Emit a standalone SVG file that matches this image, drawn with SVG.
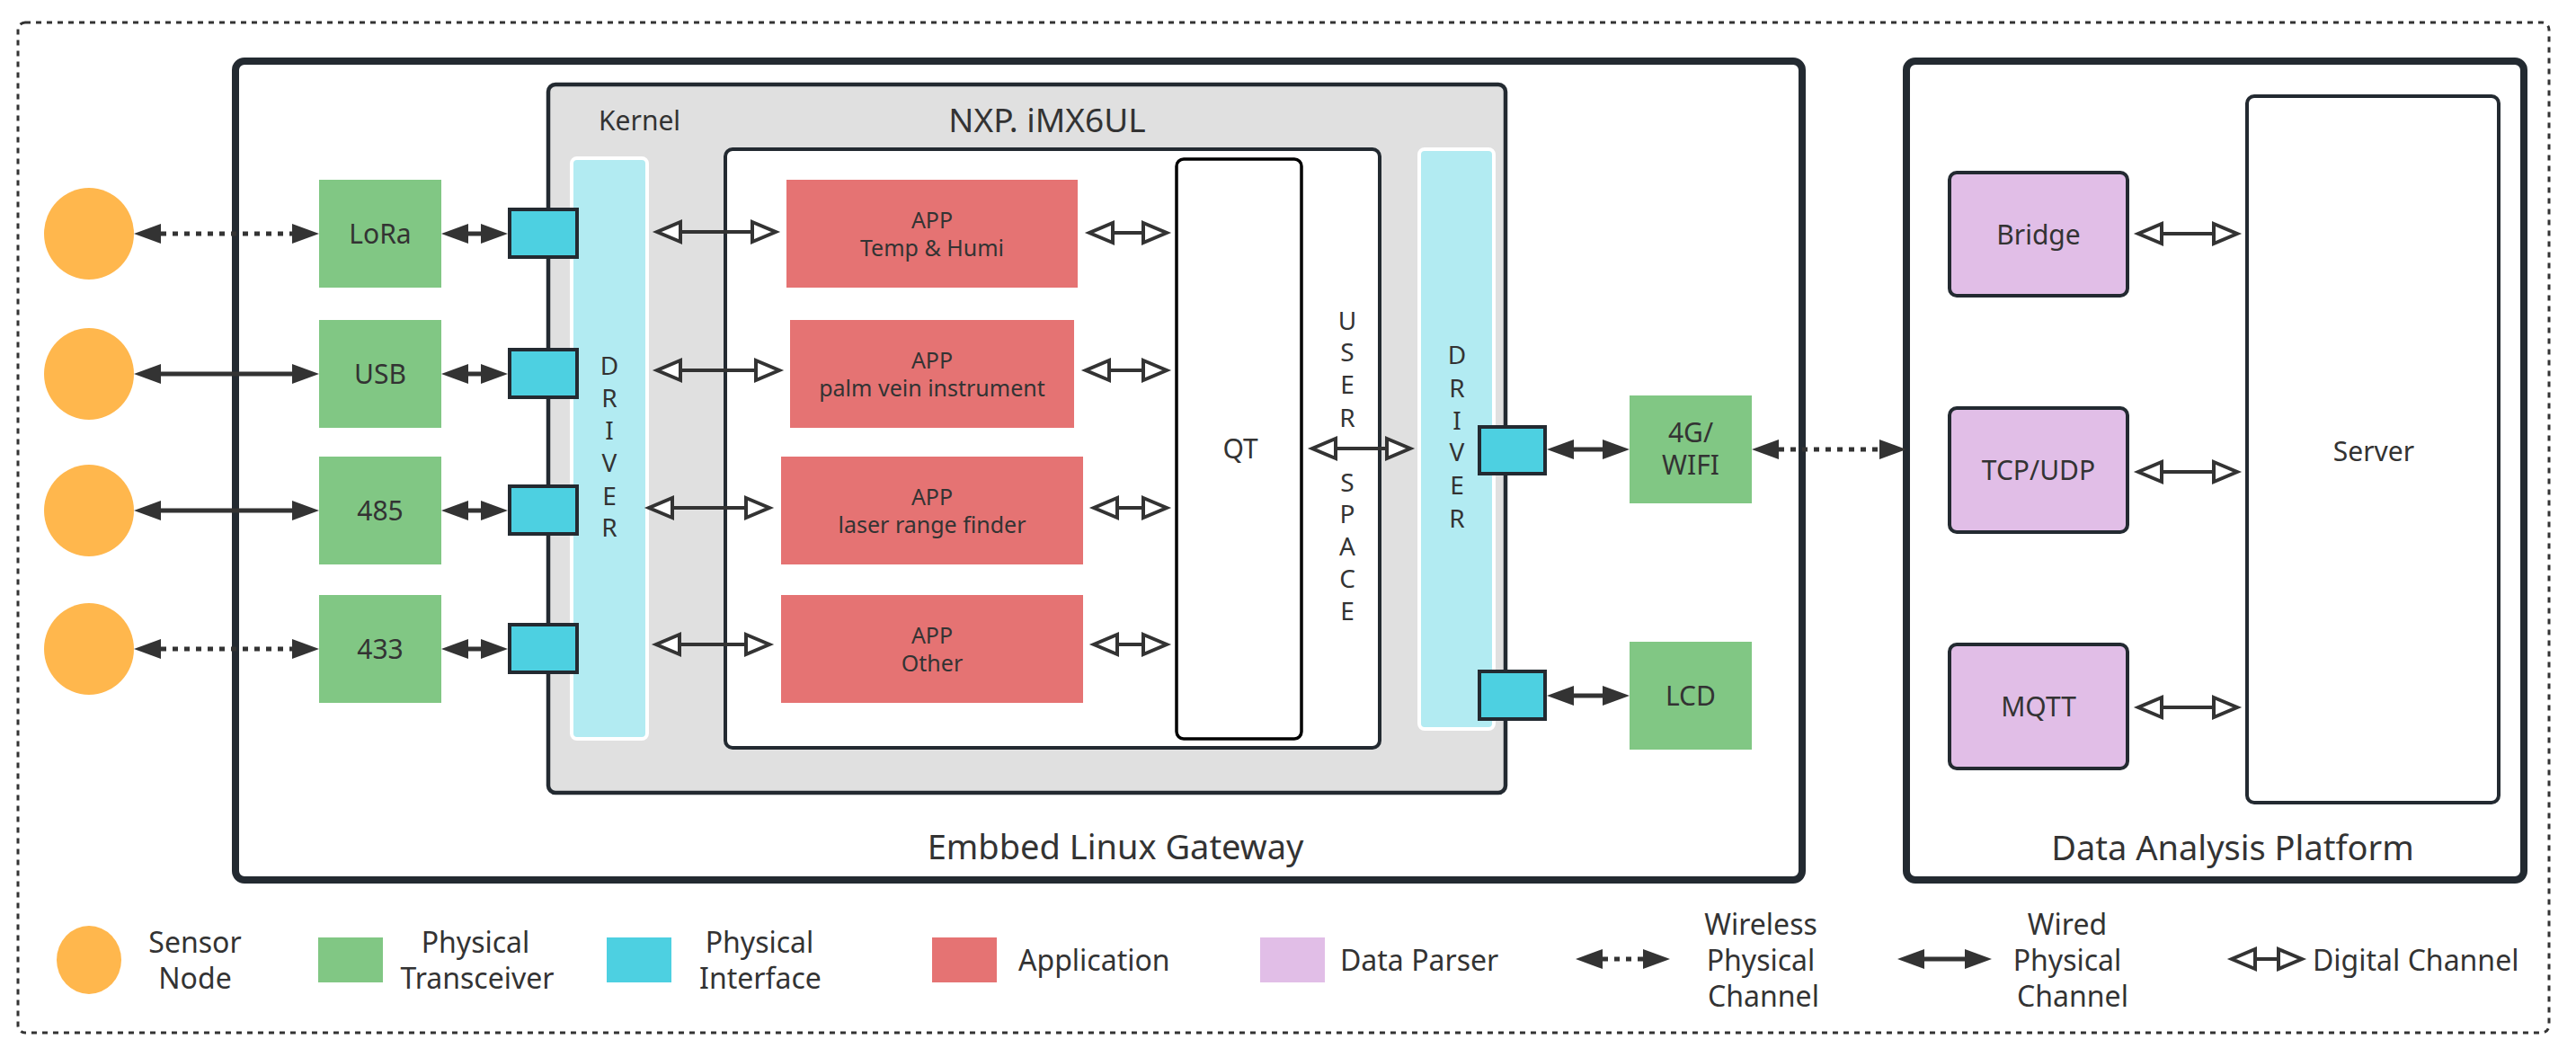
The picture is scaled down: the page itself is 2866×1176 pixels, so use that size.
<svg xmlns="http://www.w3.org/2000/svg" width="2866" height="1176" viewBox="0 0 2866 1176">
<style>
text{font-family:"Noto Sans","Liberation Sans",sans-serif;fill:#333}
.c{text-anchor:middle}
.lbl{font-size:30px}
.app{font-size:25px}
.vt{font-size:28px;text-anchor:middle}
.big{font-size:38px}
.leg{font-size:32px}
.sensor{fill:#FFB74D}
.trx{fill:#81C784}
.phy{fill:#4DD0E1;stroke:#232a31;stroke-width:4}
.app-box{fill:#E57373}
.parser{fill:#E1BEE7;stroke:#232a31;stroke-width:4}
.drv{fill:#B2EBF2;stroke:#fff;stroke-width:4}
.wired{fill:none;stroke:#333;stroke-width:5;marker-start:url(#fa);marker-end:url(#fa)}
.wireless{fill:none;stroke:#333;stroke-width:5;stroke-dasharray:6 7;marker-start:url(#fa);marker-end:url(#fa)}
.digital{fill:none;stroke:#333;stroke-width:4;marker-start:url(#ha);marker-end:url(#ha)}
</style>
<defs>
<marker id="fa" markerUnits="userSpaceOnUse" viewBox="0 0 30 24" markerWidth="30" markerHeight="24" refX="0" refY="12" orient="auto-start-reverse">
<path d="M0,1 L30,12 L0,23 Z" fill="#333"/>
</marker>
<marker id="ha" markerUnits="userSpaceOnUse" viewBox="-3 -3 36 30" markerWidth="36" markerHeight="30" refX="1" refY="12" orient="auto-start-reverse">
<path d="M1,1 L27,12 L1,23 Z" fill="#fff" stroke="#333" stroke-width="4" stroke-linejoin="miter"/>
</marker>
</defs>
<rect width="2866" height="1176" fill="#fff"/>

<g id="outer-frame">
<rect x="20" y="25" width="2816" height="1124" rx="8" fill="none" stroke="#333" stroke-width="3" stroke-dasharray="6 6"/>
</g>

<g id="gateway">
<rect x="262" y="68" width="1743" height="911" rx="10" fill="#fff" stroke="#232a31" stroke-width="8"/>
<text class="big c" x="1241" y="956">Embbed Linux Gateway</text>
</g>

<g id="platform">
<rect x="2121" y="68" width="687" height="911" rx="10" fill="#fff" stroke="#232a31" stroke-width="8"/>
<text class="big c" x="2484" y="957">Data Analysis Platform</text>
</g>

<g id="kernel">
<rect x="610" y="94" width="1065" height="788" rx="8" fill="#E0E0E0" stroke="#232a31" stroke-width="4.5"/>
<text x="666" y="145" style="font-size:30px">Kernel</text>
<text class="c" x="1165" y="147" style="font-size:37px">NXP. iMX6UL</text>
</g>

<g id="user-space">
<rect x="807" y="166" width="728" height="666" rx="8" fill="#fff" stroke="#232a31" stroke-width="4"/>
<text class="vt" x="1499"><tspan x="1499" y="367">U</tspan><tspan x="1499" y="402">S</tspan><tspan x="1499" y="438">E</tspan><tspan x="1499" y="475">R</tspan><tspan x="1499" y="547">S</tspan><tspan x="1499" y="582">P</tspan><tspan x="1499" y="618">A</tspan><tspan x="1499" y="654">C</tspan><tspan x="1499" y="690">E</tspan></text>
</g>

<g id="qt">
<rect x="1309" y="177" width="139" height="645" rx="8" fill="#fff" stroke="#000" stroke-width="3.5"/>
<text class="lbl c" x="1380" y="510">QT</text>
</g>

<g id="driver-left">
<rect class="drv" x="636" y="176" width="84" height="646" rx="6"/>
<text class="vt"><tspan x="678" y="417">D</tspan><tspan x="678" y="453">R</tspan><tspan x="678" y="489">I</tspan><tspan x="678" y="525">V</tspan><tspan x="678" y="562">E</tspan><tspan x="678" y="597">R</tspan></text>
</g>

<g id="driver-right">
<rect class="drv" x="1579" y="166" width="83" height="645" rx="6"/>
<text class="vt"><tspan x="1621" y="405">D</tspan><tspan x="1621" y="442">R</tspan><tspan x="1621" y="478">I</tspan><tspan x="1621" y="513">V</tspan><tspan x="1621" y="550">E</tspan><tspan x="1621" y="587">R</tspan></text>
</g>

<g id="sensor-1"><ellipse class="sensor" cx="99" cy="260" rx="50" ry="51"/></g>
<g id="sensor-2"><ellipse class="sensor" cx="99" cy="416" rx="50" ry="51"/></g>
<g id="sensor-3"><ellipse class="sensor" cx="99" cy="568" rx="50" ry="51"/></g>
<g id="sensor-4"><ellipse class="sensor" cx="99" cy="722" rx="50" ry="51"/></g>

<g id="lora"><rect class="trx" x="355" y="200" width="136" height="120"/><text class="lbl c" x="423" y="271">LoRa</text></g>
<g id="usb"><rect class="trx" x="355" y="356" width="136" height="120"/><text class="lbl c" x="423" y="427">USB</text></g>
<g id="rs485"><rect class="trx" x="355" y="508" width="136" height="120"/><text class="lbl c" x="423" y="579">485</text></g>
<g id="rf433"><rect class="trx" x="355" y="662" width="136" height="120"/><text class="lbl c" x="423" y="733">433</text></g>

<g id="phy-1"><rect class="phy" x="567" y="233" width="75" height="53"/></g>
<g id="phy-2"><rect class="phy" x="567" y="389" width="75" height="53"/></g>
<g id="phy-3"><rect class="phy" x="567" y="541" width="75" height="53"/></g>
<g id="phy-4"><rect class="phy" x="567" y="695" width="75" height="53"/></g>
<g id="phy-5"><rect class="phy" x="1646" y="475" width="73" height="52"/></g>
<g id="phy-6"><rect class="phy" x="1646" y="747" width="73" height="53"/></g>

<g id="app-temp"><rect class="app-box" x="875" y="200" width="324" height="120"/><text class="app c" x="1037" y="254">APP</text><text class="app c" x="1037" y="285">Temp &amp; Humi</text></g>
<g id="app-palm"><rect class="app-box" x="879" y="356" width="316" height="120"/><text class="app c" x="1037" y="410">APP</text><text class="app c" x="1037" y="441">palm vein instrument</text></g>
<g id="app-laser"><rect class="app-box" x="869" y="508" width="336" height="120"/><text class="app c" x="1037" y="562">APP</text><text class="app c" x="1037" y="593">laser range finder</text></g>
<g id="app-other"><rect class="app-box" x="869" y="662" width="336" height="120"/><text class="app c" x="1037" y="716">APP</text><text class="app c" x="1037" y="747">Other</text></g>

<g id="wifi"><rect class="trx" x="1813" y="440" width="136" height="120"/><text class="lbl c" x="1881" y="492">4G/</text><text class="lbl c" x="1881" y="528">WIFI</text></g>
<g id="lcd"><rect class="trx" x="1813" y="714" width="136" height="120"/><text class="lbl c" x="1881" y="785">LCD</text></g>

<g id="bridge"><rect class="parser" x="2169" y="192" width="198" height="137" rx="8"/><text class="lbl c" x="2268" y="272">Bridge</text></g>
<g id="tcpudp"><rect class="parser" x="2169" y="454" width="198" height="138" rx="8"/><text class="lbl c" x="2268" y="534">TCP/UDP</text></g>
<g id="mqtt"><rect class="parser" x="2169" y="717" width="198" height="138" rx="8"/><text class="lbl c" x="2268" y="797">MQTT</text></g>

<g id="server"><rect x="2500" y="107" width="280" height="786" rx="8" fill="#fff" stroke="#232a31" stroke-width="4"/><text class="lbl c" x="2641" y="513">Server</text></g>

<g id="connectors">
<path class="wireless" d="M179,260 H325"/>
<path class="wired" d="M179,416 H325"/>
<path class="wired" d="M179,568 H325"/>
<path class="wireless" d="M179,722 H325"/>
<path class="wired" d="M521,260 H535"/>
<path class="wired" d="M521,416 H535"/>
<path class="wired" d="M521,568 H535"/>
<path class="wired" d="M521,722 H535"/>
<path class="digital" d="M757,258 H837"/>
<path class="digital" d="M757,412 H841"/>
<path class="digital" d="M748,565 H830"/>
<path class="digital" d="M756,717 H830"/>
<path class="digital" d="M1238,259 H1272"/>
<path class="digital" d="M1234,412 H1272"/>
<path class="digital" d="M1243,565 H1272"/>
<path class="digital" d="M1243,717 H1272"/>
<path class="digital" d="M1486,499 H1543"/>
<path class="wired" d="M1751,500 H1783"/>
<path class="wired" d="M1751,774 H1783"/>
<path class="wireless" d="M1979,500 H2091"/>
<path class="digital" d="M2405,260 H2463"/>
<path class="digital" d="M2405,525 H2463"/>
<path class="digital" d="M2405,787 H2463"/>
</g>

<g id="legend">
<ellipse class="sensor" cx="99" cy="1068" rx="36" ry="38"/>
<text class="leg c" x="217" y="1060">Sensor</text>
<text class="leg c" x="217" y="1100">Node</text>
<rect class="trx" x="354" y="1043" width="72" height="50"/>
<text class="leg c" x="529" y="1060">Physical</text>
<text class="leg c" x="531" y="1100">Transceiver</text>
<rect x="675" y="1043" width="72" height="50" fill="#4DD0E1"/>
<text class="leg c" x="845" y="1060">Physical</text>
<text class="leg c" x="846" y="1100">Interface</text>
<rect class="app-box" x="1037" y="1043" width="72" height="50"/>
<text class="leg" x="1133" y="1080">Application</text>
<rect x="1402" y="1043" width="72" height="50" fill="#E1BEE7"/>
<text class="leg" x="1491" y="1080">Data Parser</text>
<path class="wireless" d="M1783,1067 H1828"/>
<text class="leg c" x="1959" y="1040">Wireless</text>
<text class="leg c" x="1959" y="1080">Physical</text>
<text class="leg c" x="1962" y="1120">Channel</text>
<path class="wired" d="M2141,1067 H2186"/>
<text class="leg c" x="2300" y="1040">Wired</text>
<text class="leg c" x="2300" y="1080">Physical</text>
<text class="leg c" x="2306" y="1120">Channel</text>
<path class="digital" d="M2509,1067 H2535"/>
<text class="leg" x="2573" y="1080">Digital Channel</text>
</g>
</svg>
